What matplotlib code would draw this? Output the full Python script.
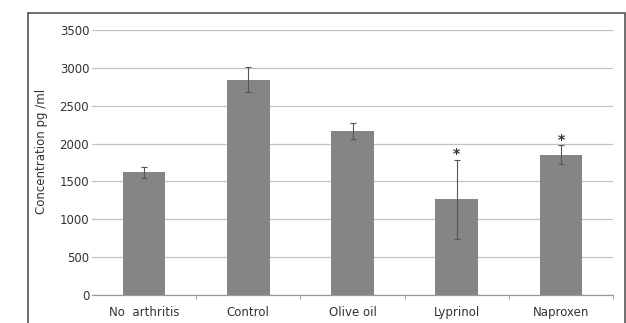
import matplotlib
matplotlib.use('Agg')
import matplotlib.pyplot as plt
from matplotlib.patches import Rectangle

# Concentration by group (pg/ml), mean and error
groups = ['No  arthritis', 'Control', 'Olive oil', 'Lyprinol', 'Naproxen']
means = [1620, 2840, 2170, 1265, 1850]
errors = [75, 165, 105, 520, 125]
significant = [False, False, False, True, True]
y_ticks = [0, 500, 1000, 1500, 2000, 2500, 3000, 3500]

fig = plt.figure(figsize=(6.26, 3.23), dpi=100)
fig.patch.set_facecolor('white')

# outer box around the whole panel
fig.patches.append(Rectangle((28 / 626, -0.05), (625 - 28) / 626, 1.05 - 13 / 323,
                             transform=fig.transFigure, fill=False,
                             edgecolor='#555555', linewidth=1.2))

ax = fig.add_axes([92 / 626, 1 - 295 / 323, (613 - 92) / 626, (295 - 30) / 323])

x = range(len(groups))
ax.bar(x, means, width=0.41, color='#858585', zorder=2)
ax.errorbar(x, means, yerr=errors, fmt='none', ecolor='#555555',
            elinewidth=0.8, capsize=2, capthick=0.8, zorder=3)

for i, m in enumerate(means):
    if significant[i]:
        ax.annotate('*', (i, m + errors[i]), xytext=(0, -1), textcoords='offset points',
                    ha='center', va='bottom', fontsize=10, fontweight='bold', color='#333333')

ax.set_xlim(-0.5, len(groups) - 0.5)
ax.set_ylim(0, 3500)
ax.set_yticks(y_ticks)
ax.set_yticklabels([str(t) for t in y_ticks], fontsize=8.5, color='#333333')
ax.set_xticks(list(x))
ax.set_xticklabels(groups, fontsize=8.5, color='#333333')
ax.tick_params(axis='x', length=0, pad=8)
ax.tick_params(axis='y', length=0, pad=2)

# small marks between categories
ax.set_xticks([i + 0.5 for i in range(len(groups))], minor=True)
ax.tick_params(axis='x', which='minor', length=3, color='#999999', direction='out')

ax.grid(axis='y', color='#c2c2c2', linewidth=0.9, zorder=0)
for s in ['top', 'right', 'left']:
    ax.spines[s].set_visible(False)
ax.spines['bottom'].set_color('#999999')
ax.spines['bottom'].set_linewidth(0.9)

ax.set_ylabel('Concentration pg /ml', fontsize=8.5, color='#333333')
ax.yaxis.set_label_coords(-0.085, 0.54)

fig.savefig('out.png', dpi=100, facecolor='white')
